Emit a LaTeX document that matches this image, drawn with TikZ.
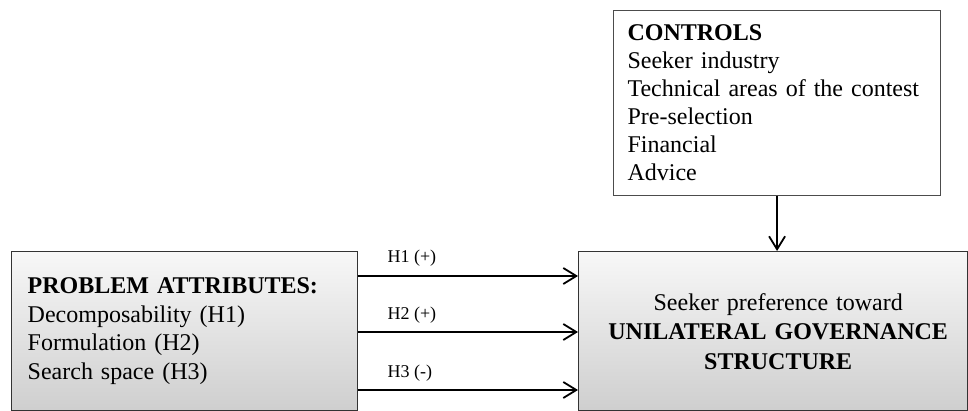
\documentclass[tikz,border=0pt]{standalone}
\usepackage{fontspec}
\setmainfont{Liberation Serif}
\usetikzlibrary{arrows.meta}
\usetikzlibrary{positioning}

\tikzset{
  shadedbox/.style={draw=black!80, line width=1.4pt, top color=gray!6, bottom color=gray!38,
    anchor=north west, inner ysep=0pt, font=\fontsize{24}{28.7}\selectfont},
  ctrlbox/.style={draw=black!70, line width=1.1pt, fill=white, anchor=north west,
    inner xsep=14pt, inner ysep=0pt, align=left, font=\fontsize{24}{28}\selectfont},
  link/.style={line width=1.8pt, -{Straight Barb[length=13pt,width=16pt,line width=1.8pt]}},
  hyp/.style={font=\fontsize{18}{20}\selectfont, anchor=west, inner sep=0pt},
}

\begin{document}
\begin{tikzpicture}[x=1pt, y=-1pt]
    \useasboundingbox (0,0) rectangle (968,411);

    % boxes
    \node[ctrlbox, minimum width=327pt, minimum height=185pt, text width=299pt] (ctrl) at (613,10)
      {\textbf{CONTROLS}\\Seeker industry\\Technical areas of the contest\\Pre-selection\\Financial\\Advice};
    \node[shadedbox, minimum width=346pt, minimum height=159pt, text width=314pt,
      inner xsep=16pt, align=left] (attr) at (11,251)
      {\textbf{PROBLEM ATTRIBUTES:}\\Decomposability (H1)\\Formulation (H2)\\Search space (H3)};
    \node[shadedbox, minimum width=389pt, minimum height=159pt, text width=373pt,
      inner xsep=8pt, align=center, font=\fontsize{24}{29.5}\selectfont] (goal) at (578,251)
      {\hspace*{10pt}Seeker preference toward\\\hspace*{10pt}\textbf{UNILATERAL GOVERNANCE}\\\hspace*{10pt}\textbf{STRUCTURE}};

    % hypotheses
    \coordinate (a1) at ([yshift=-25pt]attr.north east);
    \coordinate (a2) at ([yshift=-81pt]attr.north east);
    \coordinate (a3) at ([yshift=-139pt]attr.north east);

    \draw[link] (a1) -- (a1 -| goal.west);
    \draw[link] (a2) -- (a2 -| goal.west);
    \draw[link] (a3) -- (a3 -| goal.west);

    \node[hyp] (h1) at ([xshift=29pt, yshift=18pt]a1) {H1 (+)};
    \node[hyp] (h2) at ([xshift=29pt, yshift=17pt]a2) {H2 (+)};
    \node[hyp] (h3) at ([xshift=29pt, yshift=17pt]a3) {H3 (-)};

    % controls
    \draw[link] (ctrl.south) -- (ctrl.south |- goal.north);
\end{tikzpicture}
\end{document}
